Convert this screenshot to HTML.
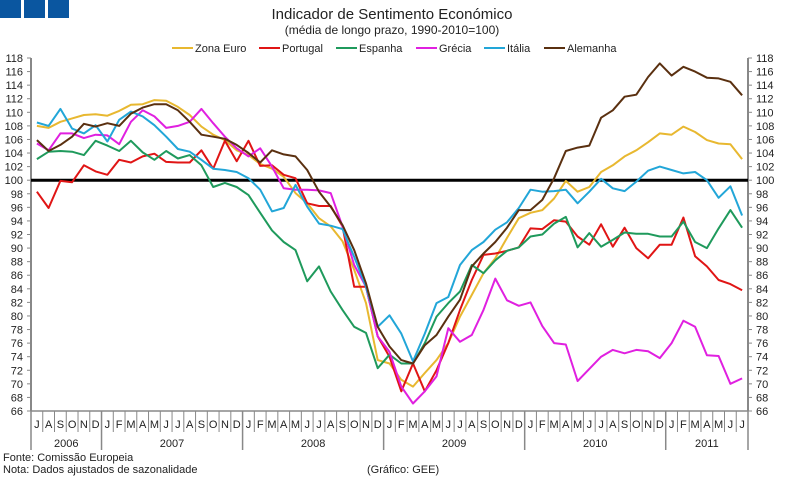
<!DOCTYPE html>
<html><head><meta charset="utf-8">
<style>
body{margin:0;background:#fff;}
svg{display:block;font-family:"Liberation Sans",sans-serif;}
</style></head>
<body>
<svg id="chart" width="785" height="479" viewBox="0 0 785 479">
<rect x="0" y="0" width="21" height="18" fill="#0a56a0"/>
<rect x="24" y="0" width="21" height="18" fill="#0a56a0"/>
<rect x="48" y="0" width="21" height="18" fill="#0a56a0"/>
<text x="392" y="19" font-size="15" text-anchor="middle" fill="#222">Indicador de Sentimento Económico</text>
<text x="392" y="34" font-size="12" text-anchor="middle" fill="#222">(média de longo prazo, 1990-2010=100)</text>
<g id="legend"></g>
<g id="axes"></g>
<g id="series"></g>
<text x="3" y="461" font-size="11" fill="#222">Fonte: Comissão Europeia</text>
<text x="3" y="473" font-size="11" fill="#222">Nota: Dados ajustados de sazonalidade</text>
<text x="367" y="473" font-size="11" fill="#222">(Gráfico: GEE)</text>
</svg>
<script>
const months = ["J","A","S","O","N","D","J","F","M","A","M","J","J","A","S","O","N","D","J","F","M","A","M","J","J","A","S","O","N","D","J","F","M","A","M","J","J","A","S","O","N","D","J","F","M","A","M","J","J","A","S","O","N","D","J","F","M","A","M","J","J"];
const years = ["2006","2007","2008","2009","2010","2011"];
const yearStarts = [0,6,18,30,42,54];
const yTicks = [66,68,70,72,74,76,78,80,82,84,86,88,90,92,94,96,98,100,102,104,106,108,110,112,114,116,118];
const seriesNames = ["Zona Euro","Portugal","Espanha","Grécia","Itália","Alemanha"];
const seriesColors = ["#e8b830","#e01515","#1f9a5c","#e020e0","#22a6d8","#5a3010"];
const zonaEuro = [108,107.7,108.6,109.1,109.6,109.7,109.5,110.2,111.1,111.2,111.8,111.7,110.8,109.6,107.9,106.7,105.9,104.4,103.7,102.4,101.7,100.5,98.1,96.6,94.4,93.2,91,86.8,81.9,73.5,73,70.6,69.6,71.6,73.5,76,79.9,83.1,86.3,88.5,91.5,94.4,95.2,95.6,97.3,99.9,98.3,99,101.2,102.2,103.5,104.4,105.6,106.9,106.7,107.9,107.1,105.9,105.4,105.3,103.1];
const portugal = [98.3,95.9,99.9,99.7,102.2,101.3,100.8,103,102.6,103.5,103.9,102.7,102.6,102.6,104.4,101.7,105.8,102.8,105.8,102.1,102.2,100.8,100.3,96.6,96.2,96.2,93.2,84.3,84.3,77,74,68.9,73,68.9,72,76,80.9,85.3,89,89.2,89.6,90.1,92.9,92.8,94.1,93.9,91.7,90.5,93.5,90.2,93,90,88.5,90.5,90.5,94.5,88.8,87.3,85.3,84.7,83.8];
const espanha = [103.1,104.2,104.3,104.2,103.7,105.8,105.1,104.3,105.8,104.1,103,104.3,103.2,103.7,102.2,99,99.6,99,97.8,95.2,92.6,90.9,89.7,85.1,87.3,83.6,80.9,78.4,77.5,72.3,74.3,73,73,76,79.9,81.9,83.6,87.5,86.3,88.2,89.6,90.1,91.7,92,93.6,94.6,90.1,92.2,90.2,91.2,92.3,92.1,92.1,91.7,91.7,93.9,90.9,90,92.9,95.6,93];
const grecia = [105.4,104.4,106.9,106.9,106.2,106.7,106.6,105.3,108.6,110.3,109.4,107.7,108,108.6,110.5,108.4,106.4,104.7,103.5,104.7,102,98.8,98.6,98.6,98.5,98.1,93.2,87.5,84.3,77,74.7,69.6,67.1,68.9,71.1,78.2,76.2,77.2,80.9,85.5,82.3,81.5,82,78.5,76,75.8,70.4,72.2,74,75,74.5,75,74.8,73.8,76,79.3,78.4,74.2,74.1,70,70.8];
const italia = [108.5,108,110.5,107.6,106.9,108.1,105.7,108.9,110.1,109.4,108.1,106.4,104.6,104.2,103,101.7,101.5,101.2,100.3,98.6,95.4,95.9,99.3,96.1,93.6,93.3,92.8,88.7,84.3,78.4,80.1,77.4,73.3,77.4,81.9,82.8,87.5,89.7,90.9,92.7,93.8,95.9,98.6,98.3,98.4,98.6,96.6,98.3,100.2,98.8,98.4,99.8,101.4,102,101.5,101,101.2,100,97.4,99.1,94.8];
const alemanha = [105.9,104.3,105.2,106.4,108.3,107.9,108.4,108,109.8,110.7,111.2,111.2,110.3,108.6,106.7,106.4,106.1,105.2,104,102.6,104.4,103.8,103.5,101.5,98.3,96.1,93.4,89.7,84.8,78.4,75.5,73.5,73,75.7,77.2,79.9,82.4,87.3,89.2,90.9,93,95.6,95.6,97.1,100.3,104.3,104.8,105.1,109.2,110.3,112.3,112.6,115.2,117.2,115.4,116.7,116,115.1,115,114.5,112.5];

const NS="http://www.w3.org/2000/svg";
const X0=31, X1=748, Y0=411, Y1=58, VMIN=66, VMAX=118;
const N = months.length;
const step=(X1-X0)/N;
function xPos(i){return X0+(i+0.5)*step;}
function xEdge(i){return X0+i*step;}
function yPos(v){return Y0-(v-VMIN)/(VMAX-VMIN)*(Y0-Y1);}
function mk(tag,attrs,parent){const e=document.createElementNS(NS,tag);for(const k in attrs)e.setAttribute(k,attrs[k]);parent.appendChild(e);return e;}

const axes=document.getElementById('axes');
// axis lines
let l=mk('line',{x1:X0,y1:Y1,x2:X0,y2:Y0,stroke:'#888','stroke-width':2},axes);


l=mk('line',{x1:X1,y1:Y1,x2:X1,y2:Y0,stroke:'#888','stroke-width':2},axes);


l=mk('line',{x1:X0,y1:Y0,x2:X1,y2:Y0,stroke:'#888','stroke-width':1.5},axes);


yTicks.forEach(v=>{
  const y=yPos(v);
  let t=mk('line',{x1:X0-4,y1:y,x2:X0,y2:y,stroke:'#888','stroke-width':1},axes);
  
  
  t=mk('line',{x1:X1,y1:y,x2:X1+4,y2:y,stroke:'#888','stroke-width':1},axes);
  
  
  let tx=mk('text',{x:23,y:y+4,'font-size':11,'text-anchor':'end',fill:'#222'},axes);
  tx.textContent=v;
  
  
  tx=mk('text',{x:756,y:y+4,'font-size':11,fill:'#222'},axes);
  tx.textContent=v;
  
  
});
for(let i=0;i<=N;i++){
  const isYear=yearStarts.includes(i)||i===N;
  const s=mk('line',{x1:xEdge(i),y1:Y0,x2:xEdge(i),y2:isYear?450:432,stroke:'#888','stroke-width':isYear?1.5:1},axes);
  
  
}
months.forEach((m,i)=>{
  const t=mk('text',{x:xPos(i),y:428,'font-size':11,'text-anchor':'middle',fill:'#222'},axes);
  t.textContent=m;
  
  
});
years.forEach((yr,k)=>{
  const a=yearStarts[k], b=k+1<yearStarts.length?yearStarts[k+1]:N;
  const t=mk('text',{x:(xEdge(a)+xEdge(b))/2,y:447,'font-size':11,'text-anchor':'middle',fill:'#222'},axes);
  t.textContent=yr;
  
  
});
let ref=mk('line',{x1:X0,y1:yPos(100),x2:X1,y2:yPos(100),stroke:'#000','stroke-width':3},axes);



const data=[zonaEuro,portugal,espanha,grecia,italia,alemanha];
const sg=document.getElementById('series');
const slugs=['zona-euro','portugal','espanha','grecia','italia','alemanha'];
data.forEach((arr,k)=>{
  const pts=arr.map((v,i)=>xPos(i).toFixed(1)+','+yPos(v).toFixed(1)).join(' ');
  const p=mk('polyline',{points:pts,fill:'none',stroke:seriesColors[k],'stroke-width':2,'stroke-linejoin':'round'},sg);
  
  
});

const lg=document.getElementById('legend');
const legX=[172,259,336,416,484,544];
seriesNames.forEach((n,k)=>{
  const ln=mk('line',{x1:legX[k],y1:48,x2:legX[k]+21,y2:48,stroke:seriesColors[k],'stroke-width':2},lg);
  
  
  const t=mk('text',{x:legX[k]+23,y:52,'font-size':11,fill:'#222'},lg);
  t.textContent=n;
  
  
});
</script>
</body></html>
